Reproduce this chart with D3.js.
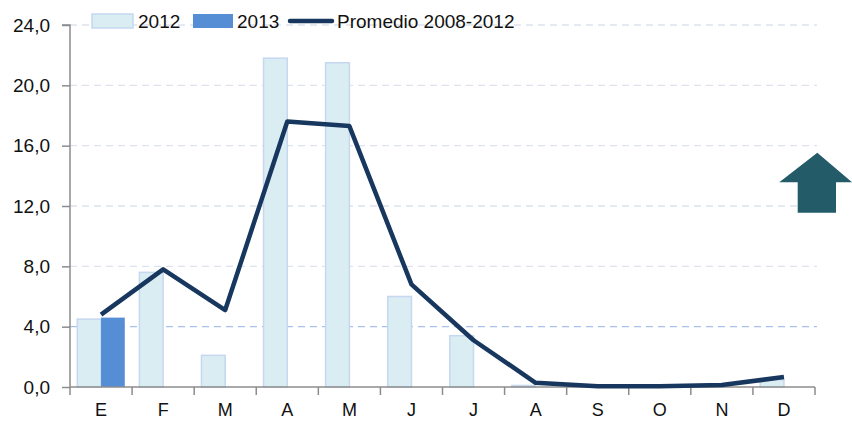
<!DOCTYPE html>
<html><head><meta charset="utf-8">
<script src="https://cdn.jsdelivr.net/npm/d3@7"></script>
<style>body{margin:0;background:#fff}svg{display:block}text{font-family:"Liberation Sans",Arial,sans-serif;fill:#111}</style>
</head><body><svg id="c" width="852" height="425"></svg>
<script>
const months = ["E","F","M","A","M","J","J","A","S","O","N","D"];
const v2012 = [4.5,7.6,2.1,21.8,21.5,6.0,3.4,0.1,0,0,0,0.5];
const v2013 = [4.6,null,null,null,null,null,null,null,null,null,null,null];
const promedio = [4.8,7.8,5.1,17.6,17.3,6.8,3.1,0.28,0.05,0.05,0.13,0.66];
const yTicks = [0,4,8,12,16,20,24];
const seriesNames = ["2012","2013","Promedio 2008-2012"];

const svg = d3.select("#c");
const L=70, R=815, T=25, B=387;
const idx = months.map((d,i)=>i);
const x = d3.scaleBand().domain(idx).range([L,R]).paddingInner(0).paddingOuter(0);
const y = d3.scaleLinear().domain([0,24]).range([B,T]);
const bw = x.bandwidth();
const sub = d3.scaleBand().domain([0,1]).range([7.3, bw-7.3]);

// grid
svg.append("g").selectAll("line").data(yTicks.filter(d=>d>0)).join("line")
  .attr("x1",L).attr("x2",R+2).attr("y1",d=>y(d)).attr("y2",d=>y(d))
  .attr("stroke",d=>d===4?"#a9c1ea":"#dde2ee").attr("stroke-width",1.3)
  .attr("stroke-dasharray","7,5");

// bars 2012
svg.append("g").selectAll("rect").data(v2012).join("rect")
  .attr("x",(d,i)=>x(i)+sub(0)).attr("width",sub.bandwidth())
  .attr("y",d=>y(d)).attr("height",d=>B-y(d))
  .attr("fill","#daedf3").attr("stroke","#c5d8f0").attr("stroke-width",1.5);
// bars 2013
svg.append("g").selectAll("rect").data(v2013.map((v,i)=>({v,i})).filter(d=>d.v!=null)).join("rect")
  .attr("x",d=>x(d.i)+sub(1)).attr("width",sub.bandwidth())
  .attr("y",d=>y(d.v)).attr("height",d=>B-y(d.v))
  .attr("fill","#558ed5");

// axes
const ya = d3.axisLeft(y).tickValues(yTicks).tickSize(8).tickPadding(12).tickFormat(d=>d3.format(".1f")(d).replace(".",","));
const gy = svg.append("g").attr("transform",`translate(${L},0)`).call(ya);
gy.select(".domain").attr("stroke","#8c8c8c").attr("stroke-width",1.5).attr("d",`M-8,${T}H0V${B}`);
gy.selectAll(".tick line").attr("stroke","#8c8c8c").attr("stroke-width",1.5);
gy.selectAll(".tick text").attr("font-size",19).attr("fill","#111").attr("font-family","Liberation Sans, Arial, sans-serif");

const xa = d3.axisBottom(x).tickFormat(i=>months[i]).tickSize(0).tickPadding(16);
const gx = svg.append("g").attr("transform",`translate(0,${B})`).call(xa);
gx.select(".domain").attr("stroke","#8c8c8c").attr("stroke-width",1.5).attr("d",`M${L},0H${R}`);
gx.selectAll(".tick text").attr("font-size",18).attr("fill","#111").attr("font-family","Liberation Sans, Arial, sans-serif");
gx.append("g").selectAll("line").data(d3.range(13)).join("line")
  .attr("x1",i=>L+i*bw).attr("x2",i=>L+i*bw).attr("y1",0).attr("y2",8)
  .attr("stroke","#8c8c8c").attr("stroke-width",1.5);

// line
svg.append("path").datum(promedio)
  .attr("d",d3.line().x((d,i)=>x(i)+bw/2).y(d=>y(d)))
  .attr("fill","none").attr("stroke","#17375e").attr("stroke-width",4.5).attr("stroke-linejoin","round");

// legend
const lg = svg.append("g");
lg.append("rect").attr("x",92).attr("y",14).attr("width",41).attr("height",14).attr("fill","#daedf3").attr("stroke","#c5d8f0").attr("stroke-width",1.5);
lg.append("text").attr("x",138).attr("y",28).attr("font-size",19).text(seriesNames[0]);
lg.append("rect").attr("x",193).attr("y",14).attr("width",40).attr("height",14).attr("fill","#558ed5");
lg.append("text").attr("x",237).attr("y",28).attr("font-size",19).text(seriesNames[1]);
lg.append("line").attr("x1",290).attr("x2",332).attr("y1",21).attr("y2",21).attr("stroke","#17375e").attr("stroke-width",4.5).attr("stroke-linecap","round");
lg.append("text").attr("x",337).attr("y",28).attr("font-size",19).text(seriesNames[2]);

// arrow
svg.append("path").attr("d","M817.3,152.7 L852,182.3 L836,182.3 L836,212.7 L797.7,212.7 L797.7,182.3 L779.3,182.3 Z").attr("fill","#235b69");
</script></body></html>
